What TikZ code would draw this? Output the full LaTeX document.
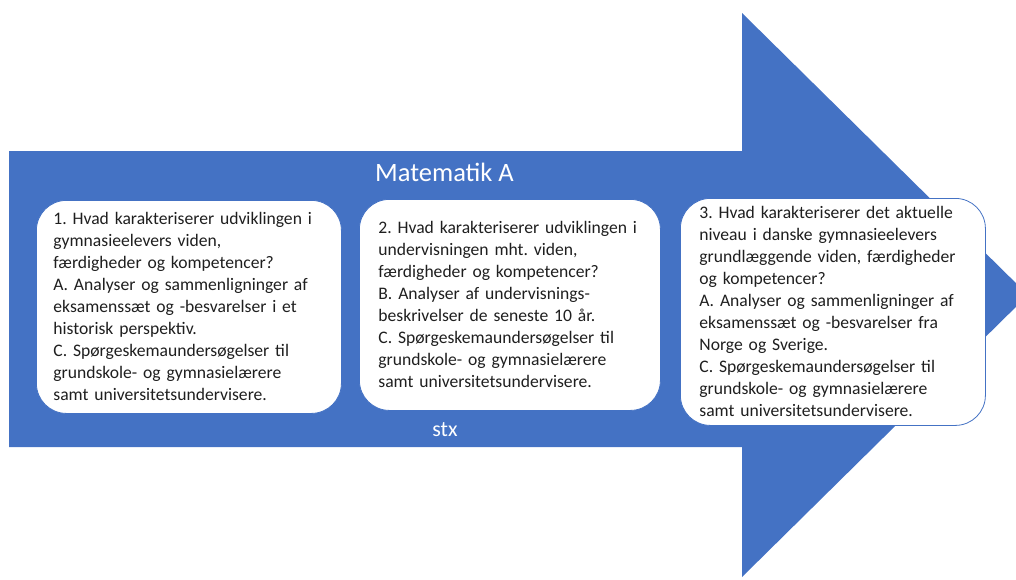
\documentclass[tikz,border=0pt]{standalone}
\usepackage{fontspec}
\setmainfont{Carlito}
\frenchspacing
\definecolor{arrowblue}{HTML}{4472C4}
\definecolor{txt}{HTML}{1F1F1F}
\begin{document}
\begin{tikzpicture}[x=1pt,y=-1pt,
  qbox/.style={draw=arrowblue,line width=0.8pt,fill=white,rounded corners=30pt,
    anchor=north west,align=left,text=txt,inner ysep=0pt,
    font=\fontsize{17.6}{22}\selectfont\frenchspacing},
  lbl/.style={text=white,inner sep=0pt}]
\useasboundingbox (0,0) rectangle (1016,579);
\clip (0,0) rectangle (1016,579);
\fill[arrowblue] (9,151) -- (742,151) -- (742,13) -- (1028,295) -- (742,577) -- (742,447) -- (9,447) -- cycle;
\node[lbl,font=\fontsize{26.5}{30}\selectfont] (title) at (444.5,172) {Matematik A};
\node[lbl,font=\fontsize{22}{24}\selectfont] (stx) at (445,430) {stx};
\node[qbox,inner xsep=17pt,text width=271pt,minimum height=213pt] (b1) at (36,200)
 {1. Hvad karakteriserer udviklingen i\\gymnasieelevers viden,\\færdigheder og kompetencer?\\A. Analyser og sammenligninger af\\eksamenssæt og -besvarelser i et\\historisk perspektiv.\\C. Spørgeskemaundersøgelser til\\grundskole- og gymnasielærere\\samt universitetsundervisere.};
\node[qbox,inner xsep=19pt,text width=263pt,minimum height=211pt] (b2) at (359,199)
 {2. Hvad karakteriserer udviklingen i\\undervisningen mht. viden,\\færdigheder og kompetencer?\\B. Analyser af undervisnings-\\beskrivelser de seneste 10 år.\\C. Spørgeskemaundersøgelser til\\grundskole- og gymnasielærere\\samt universitetsundervisere.};
\node[qbox,inner xsep=19pt,text width=267pt,minimum height=227pt] (b3) at (680,198)
 {3. Hvad karakteriserer det aktuelle\\niveau i danske gymnasieelevers\\grundlæggende viden, færdigheder\\og kompetencer?\\A. Analyser og sammenligninger af\\eksamenssæt og -besvarelser fra\\Norge og Sverige.\\C. Spørgeskemaundersøgelser til\\grundskole- og gymnasielærere\\samt universitetsundervisere.};
\end{tikzpicture}
\end{document}
